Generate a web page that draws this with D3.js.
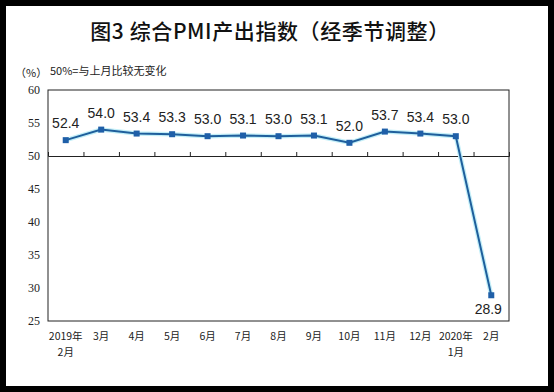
<!DOCTYPE html>
<html><head><meta charset="utf-8">
<script src="https://cdn.jsdelivr.net/npm/d3@7"></script>
<style>body{margin:0;background:#000;}svg{display:block;}</style>
</head><body>
<script>
const categories = ["2019年\n2月","3月","4月","5月","6月","7月","8月","9月","10月","11月","12月","2020年\n1月","2月"];
const values = [52.4,54.0,53.4,53.3,53.0,53.1,53.0,53.1,52.0,53.7,53.4,53.0,28.9];
const yTicks = [25,30,35,40,45,50,55,60];
const title = "图3 综合PMI产出指数（经季节调整）";
const unitLabel = "（%）";
const note = "50%=与上月比较无变化";

const W=554,H=392;
const svg=d3.select("body").append("svg").attr("width",W).attr("height",H);
svg.append("rect").attr("width",W).attr("height",H).attr("fill","#000");
svg.append("rect").attr("x",6).attr("y",6).attr("width",542).attr("height",380).attr("fill","#fff");

const pl=48, pr=509, pt=90, pb=321;
const x=d3.scaleBand().domain(d3.range(categories.length)).range([pl,pr]);
const y=d3.scaleLinear().domain([25,60]).range([pb,pt]);

svg.append("text").attr("x",270).attr("y",39).attr("text-anchor","middle")
  .attr("font-family","Noto Sans CJK SC").attr("font-weight","500").attr("font-size",21)
  .attr("letter-spacing",0.6).attr("fill","#111").text(title);
svg.append("text").attr("x",15).attr("y",77).attr("font-family","Noto Sans CJK SC").attr("font-size",11).attr("fill","#222").text(unitLabel);
svg.append("text").attr("x",50).attr("y",75).attr("font-family","Noto Sans CJK SC").attr("font-size",11).attr("fill","#222").text(note);

// frame
svg.append("rect").attr("x",pl).attr("y",pt).attr("width",pr-pl).attr("height",pb-pt)
  .attr("fill","none").attr("stroke","#222").attr("stroke-width",1);

// y axis labels
const ya=svg.append("g").attr("transform",`translate(${pl},0)`)
  .call(d3.axisLeft(y).tickValues(yTicks).tickSize(0).tickPadding(8));
ya.select(".domain").remove();
ya.selectAll("text").attr("font-family","Liberation Serif").attr("font-size",12).attr("fill","#222");

// category axis at 50
const xa=svg.append("g").attr("transform",`translate(0,${y(50)})`)
  .call(d3.axisTop(d3.scaleLinear().domain([0,categories.length]).range([pl,pr]))
    .tickValues(d3.range(1,categories.length)).tickSize(4).tickFormat(""));
xa.select(".domain").attr("stroke","#222");
xa.selectAll("line").attr("stroke","#222");

// x labels at bottom
const xl=svg.append("g");
categories.forEach((c,i)=>{
  const t=xl.append("text").attr("x",x(i)+x.bandwidth()/2).attr("y",340).attr("text-anchor","middle")
   .attr("font-family","Noto Sans CJK SC").attr("font-size",10.5).attr("fill","#222");
  c.split("\n").forEach((s,j)=>t.append("tspan").attr("x",x(i)+x.bandwidth()/2).attr("dy",j?16:0).text(s));
});

const cx=i=>x(i)+x.bandwidth()/2;
const line=d3.line().x((d,i)=>cx(i)).y(d=>y(d));
svg.append("path").datum(values).attr("d",line).attr("fill","none").attr("stroke","#c4eff8").attr("stroke-width",4.5);
svg.append("path").datum(values).attr("d",line).attr("fill","none").attr("stroke","#1f5f9c").attr("stroke-width",2);
svg.selectAll("rect.m").data(values).enter().append("rect").attr("class","m")
  .attr("x",(d,i)=>cx(i)-3).attr("y",d=>y(d)-3).attr("width",6).attr("height",6).attr("fill","#1f5fa8");

svg.selectAll("text.v").data(values).enter().append("text").attr("class","v")
  .attr("x",(d,i)=>d<50?cx(i)-3:cx(i)).attr("y",(d,i)=>d<50?y(d)+19:y(d)-12)
  .attr("text-anchor","middle").attr("font-family","Liberation Sans").attr("font-size",14).attr("fill","#222")
  .text(d=>d.toFixed(1));
</script>
</body></html>
